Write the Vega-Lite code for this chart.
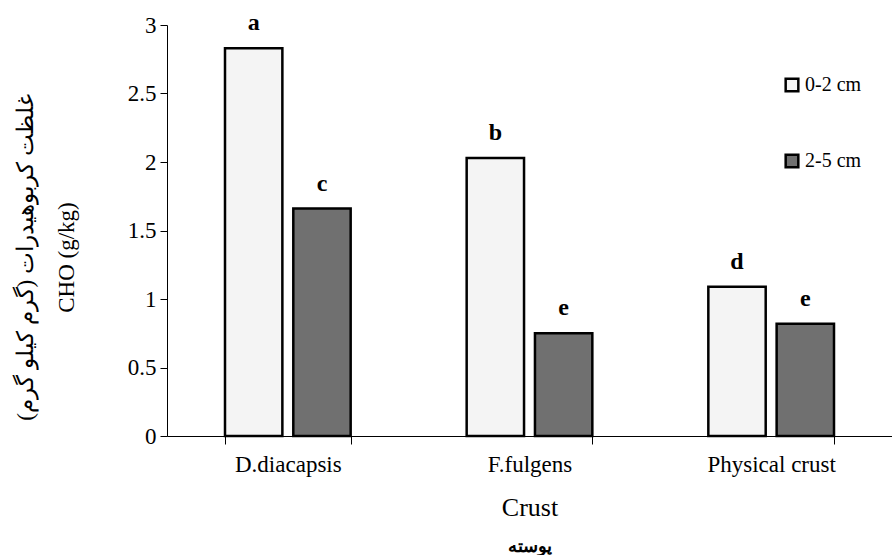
{
  "$schema": "https://vega.github.io/schema/vega-lite/v6.json",
  "autosize": {"type": "none"},
  "padding": {"left": 167, "top": 25, "right": 0, "bottom": 119},
  "width": 725,
  "height": 411,
  "background": "white",
  "title": {"text": "پوسته", "orient": "bottom", "anchor": "middle", "fontSize": 18, "fontWeight": "bold", "font": "DejaVu Serif", "color": "black", "offset": 18},
  "data": {"values": [
    {"crust": "D.diacapsis", "depth": "0-2 cm", "cho": 2.83, "letter": "a"},
    {"crust": "D.diacapsis", "depth": "2-5 cm", "cho": 1.66, "letter": "c"},
    {"crust": "F.fulgens", "depth": "0-2 cm", "cho": 2.03, "letter": "b"},
    {"crust": "F.fulgens", "depth": "2-5 cm", "cho": 0.75, "letter": "e"},
    {"crust": "Physical crust", "depth": "0-2 cm", "cho": 1.09, "letter": "d"},
    {"crust": "Physical crust", "depth": "2-5 cm", "cho": 0.82, "letter": "e"}
  ]},
  "config": {
    "view": {"stroke": null},
    "font": "Liberation Serif",
    "axis": {"domainColor": "black", "tickColor": "black", "labelColor": "black", "titleColor": "black", "grid": false, "titleFontWeight": "normal"}
  },
  "encoding": {
    "x": {"field": "crust", "type": "nominal", "sort": ["D.diacapsis", "F.fulgens", "Physical crust"],
      "scale": {"paddingInner": 0.48, "paddingOuter": 0.24},
      "axis": {"title": "Crust", "labelAngle": 0, "labelFont": "Liberation Serif", "titleFont": "Liberation Serif", "labelFontSize": 23, "titleFontSize": 26, "tickBand": "extent", "tickSize": 8, "labelPadding": 9, "titlePadding": 18, "domainWidth": 1, "tickWidth": 1}},
    "xOffset": {"field": "depth", "type": "nominal", "scale": {"paddingInner": 0.16}},
    "y": {"field": "cho", "type": "quantitative", "scale": {"domain": [0, 3], "nice": false},
      "axis": {"title": ["غلظت کربوهیدرات (گرم کیلو گرم)", "CHO (g/kg)"], "values": [0, 0.5, 1, 1.5, 2, 2.5, 3], "format": "~g", "labelFont": "Liberation Serif", "titleFont": "Liberation Serif", "labelFontSize": 23, "titleFontSize": 23, "titleLineHeight": 41, "tickSize": 7, "labelPadding": 4, "titlePadding": 49, "titleY": 232, "domainWidth": 1, "tickWidth": 1}}
  },
  "layer": [
    {"mark": {"type": "bar", "stroke": "black", "strokeWidth": 2.5},
      "encoding": {"fill": {"field": "depth", "type": "nominal",
        "scale": {"domain": ["0-2 cm", "2-5 cm"], "range": ["#f4f4f4", "#707070"]},
        "legend": {"title": null, "orient": "none", "legendX": 615, "legendY": 50, "symbolType": "square", "symbolSize": 160, "symbolStrokeColor": "black", "symbolStrokeWidth": 2.5, "labelFontSize": 20, "labelFont": "Liberation Serif", "labelColor": "black", "rowPadding": 52, "labelOffset": 3}}}},
    {"mark": {"type": "text", "fontWeight": "bold", "fontSize": 24, "font": "Liberation Serif", "baseline": "alphabetic", "dy": -18, "color": "black"},
      "encoding": {"text": {"field": "letter"}}}
  ]
}
